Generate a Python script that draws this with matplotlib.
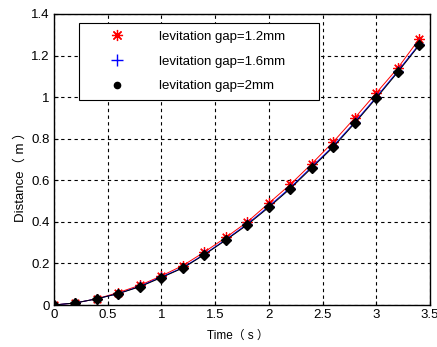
import numpy as np
import matplotlib.pyplot as plt
from matplotlib.lines import Line2D

plt.rcParams['font.family'] = ['Liberation Sans', 'Noto Sans CJK SC', 'DejaVu Sans']

time = [0, 0.2, 0.4, 0.6, 0.8, 1.0, 1.2, 1.4, 1.6, 1.8, 2.0, 2.2, 2.4, 2.6, 2.8, 3.0, 3.2, 3.4]
gap_12 = [0, 0.01, 0.03, 0.06, 0.095, 0.14, 0.19, 0.255, 0.325, 0.40, 0.49, 0.58, 0.68, 0.785, 0.90, 1.02, 1.14, 1.28]
gap_16 = [0, 0.01, 0.03, 0.055, 0.09, 0.135, 0.18, 0.245, 0.315, 0.39, 0.475, 0.565, 0.665, 0.765, 0.88, 1.00, 1.125, 1.255]
gap_20 = [0, 0.01, 0.03, 0.055, 0.088, 0.132, 0.178, 0.242, 0.312, 0.386, 0.47, 0.56, 0.66, 0.76, 0.875, 0.995, 1.12, 1.25]
labels = ['levitation gap=1.2mm', 'levitation gap=1.6mm', 'levitation gap=2mm']

fig = plt.figure(figsize=(4.37, 3.47), dpi=100)
ax = fig.add_axes([54 / 437, 1 - 305 / 347, 376 / 437, 291 / 347])

# asterisk: 8 arms like matlab '*'
ast = (8, 2, 0)
ax.plot(time, gap_12, color='red', lw=0.7, marker=ast, ms=7.5, mew=0.9, zorder=3)
ax.plot(time, gap_16, color='blue', lw=0.7, marker='+', ms=7.5, mew=0.9, zorder=3)
ax.plot(time, gap_20, color='black', lw=0.7, marker='D', ms=5.5, zorder=4)

ax.set_xlim(0, 3.5)
ax.set_ylim(0, 1.4)
ax.set_xticks(np.arange(0, 3.51, 0.5))
ax.set_xticklabels(['0', '0.5', '1', '1.5', '2', '2.5', '3', '3.5'])
ax.set_yticks(np.arange(0, 1.41, 0.2))
ax.set_yticklabels(['0', '0.2', '0.4', '0.6', '0.8', '1', '1.2', '1.4'])
ax.tick_params(direction='in', labelsize=9.5, length=3, pad=3)
ax.grid(True, color='black', ls=(0, (3, 3)), lw=0.8)
for s in ax.spines.values():
    s.set_linewidth(1)

ax.set_xlabel('Time（ s ）', fontsize=8.5)
ax.xaxis.set_label_coords(0.49, -0.085)
ax.set_ylabel('Distance（ m ）', fontsize=9.5)
ax.yaxis.set_label_coords(-0.072, 0.45)

# legend shows markers only
handles = [
    Line2D([], [], ls='none', color='red', marker=ast, ms=8, mew=0.9),
    Line2D([], [], ls='none', color='blue', marker='+', ms=9, mew=1),
    Line2D([], [], ls='none', color='black', marker='o', ms=4.5),
]
leg = ax.legend(handles, labels, loc='upper left', mode='expand',
                bbox_to_anchor=(0.0665, 0.70, 0.638, 0.27), fontsize=9.5,
                fancybox=False, framealpha=1, edgecolor='black',
                handlelength=4.5, handletextpad=1.0, borderpad=0.6,
                labelspacing=0.95, borderaxespad=0)
leg.get_frame().set_linewidth(0.8)

fig.savefig('out.png', dpi=100)
